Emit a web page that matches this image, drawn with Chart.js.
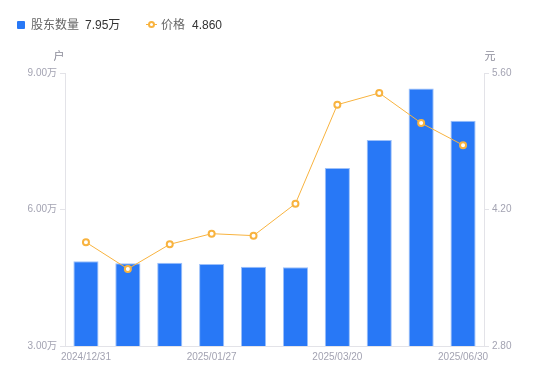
<!DOCTYPE html>
<html>
<head>
<meta charset="utf-8">
<script src="https://cdn.jsdelivr.net/npm/chart.js@4"></script>
<style>
  body { margin: 0; background: #fff; }
  #wrap { position: relative; width: 550px; height: 381px; }
  #legend { position: absolute; left: 0; top: 15px; font: 12px "Liberation Sans", "Noto Sans CJK SC", sans-serif; color: #666; }
  #legend span { position: absolute; white-space: nowrap; line-height: 20px; }
  .val { color: #333; }
</style>
</head>
<body>
<div id="wrap">
  <canvas id="chart" width="550" height="381"></canvas>
  <div id="legend">
    <span style="left:17px;top:6px;width:8px;height:8px;background:#2878f6;border-radius:1px"></span>
    <span style="left:31px;top:0">股东数量</span>
    <span class="val" style="left:85px;top:0">7.95万</span>
    <span style="left:146px;top:9px;width:11px;height:1px;background:#f8b33f"></span>
    <span style="left:148px;top:6px;width:3px;height:3px;border:2px solid #f8b33f;border-radius:50%;background:#fff"></span>
    <span style="left:161px;top:0">价格</span>
    <span class="val" style="left:192px;top:0">4.860</span>
  </div>
</div>
<script>
const dates = ["2024/12/31", "2025/01/10", "2025/01/20", "2025/01/27", "2025/02/10",
  "2025/02/28", "2025/03/20", "2025/03/31", "2025/04/30", "2025/06/30"];
const holders = [4.86, 4.82, 4.83, 4.80, 4.74, 4.73, 6.91, 7.53, 8.66, 7.95]; // 万户
const price = [3.864, 3.59, 3.843, 3.952, 3.932, 4.26, 5.275, 5.395, 5.087, 4.86];
const leftTicks = [3, 6, 9];
const rightTicks = [2.8, 4.2, 5.6];
const shownLabels = [0, 3, 6, 9];

const fontFam = '"Liberation Sans", "Noto Sans CJK SC", sans-serif';
const tickColor = "#a3a3b2";
const axisColor = "#e3e3e8";

// unit labels above the two y axes
const unitTitles = {
  id: "unitTitles",
  afterDraw(chart) {
    const ctx = chart.ctx;
    const a = chart.chartArea;
    ctx.save();
    ctx.font = "11px " + fontFam;
    ctx.fillStyle = "#8a8a98";
    ctx.textAlign = "center";
    ctx.textBaseline = "middle";
    ctx.fillText("户", a.left - 6, 57);
    ctx.fillText("元", a.right + 6, 57);
    ctx.restore();
  }
};

new Chart(document.getElementById("chart"), {
  data: {
    labels: dates,
    datasets: [
      {
        type: "line",
        label: "价格",
        data: price,
        yAxisID: "y1",
        borderColor: "#f8b33f",
        borderWidth: 1,
        pointRadius: 3,
        pointBorderWidth: 2,
        pointBackgroundColor: "#fff",
        pointBorderColor: "#f8b33f",
        tension: 0,
        order: 0,
      },
      {
        type: "bar",
        label: "股东数量",
        data: holders,
        yAxisID: "y",
        backgroundColor: "#2878f6",
        borderColor: "#9cc0fa",
        borderWidth: 1,
        categoryPercentage: 1,
        barPercentage: 0.6,
        order: 1,
      },
    ],
  },
  options: {
    responsive: false,
    animation: false,
    layout: { padding: { top: 73, left: 0, right: 0, bottom: 0 } },
    plugins: { legend: { display: false }, tooltip: { enabled: false } },
    scales: {
      x: {
        grid: { display: false, drawTicks: false },
        border: { display: true, color: axisColor },
        afterFit(s) { s.height = 35; },
        ticks: {
          autoSkip: false,
          maxRotation: 0,
          padding: 5,
          color: tickColor,
          font: { size: 10, family: fontFam },
          callback(v, i) { return shownLabels.includes(i) ? dates[i] : ""; },
        },
      },
      y: {
        position: "left",
        min: 3, max: 9,
        afterBuildTicks(s) { s.ticks = leftTicks.map(v => ({ value: v })); },
        afterFit(s) { s.width = 65; },
        grid: { drawOnChartArea: false, tickLength: 5, color: axisColor },
        border: { display: true, color: axisColor },
        ticks: {
          padding: 3,
          color: tickColor,
          font: { size: 10, family: fontFam },
          callback(v) { return v.toFixed(2) + "万"; },
        },
      },
      y1: {
        position: "right",
        min: 2.8, max: 5.6,
        afterBuildTicks(s) { s.ticks = rightTicks.map(v => ({ value: v })); },
        afterFit(s) { s.width = 66; },
        grid: { drawOnChartArea: false, tickLength: 5, color: axisColor },
        border: { display: true, color: axisColor },
        ticks: {
          padding: 3,
          color: tickColor,
          font: { size: 10, family: fontFam },
          callback(v) { return v.toFixed(2); },
        },
      },
    },
  },
  plugins: [unitTitles],
});
</script>
</body>
</html>
